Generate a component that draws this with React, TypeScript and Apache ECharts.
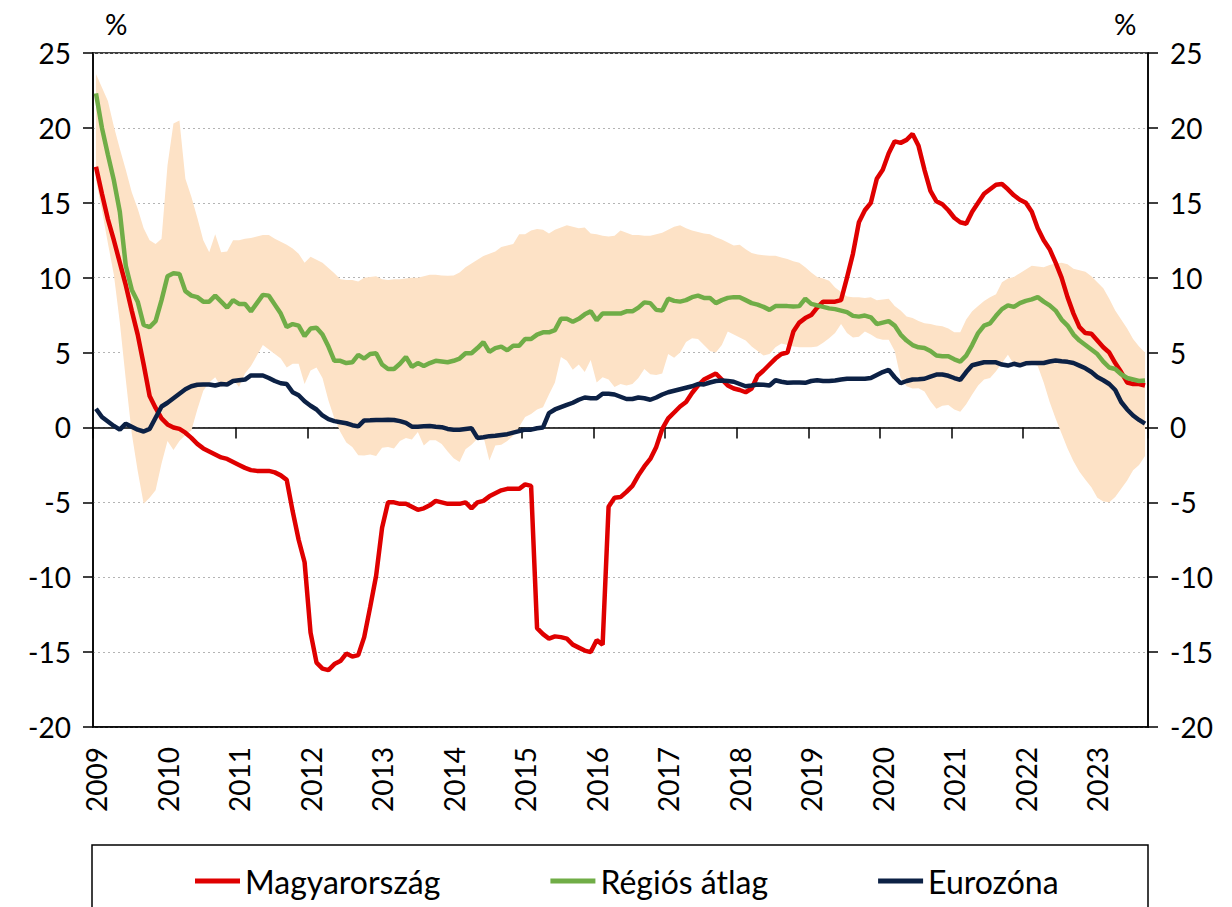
import React, { useEffect, useRef } from "react";
import * as echarts from "echarts";

// ---- Tick labels / categories ----
const years = ["2009", "2010", "2011", "2012", "2013", "2014", "2015", "2016", "2017", "2018", "2019", "2020", "2021", "2022", "2023"];
const monthCodes = ["01", "02", "03", "04", "05", "06", "07", "08", "09", "10", "11", "12"];
const monthsInLastYear = 9;
const categories: string[] = years.flatMap((y, yi) =>
  monthCodes.slice(0, yi === years.length - 1 ? monthsInLastYear : 12).map((m) => `${y}.${m}`)
);

const seriesNames = ["Magyarország", "Régiós átlag", "Eurozóna"];

// ---- Series values (monthly, Jan 2009 – Sep 2023) ----
const hungary = [
  17.4, 15.6, 13.9, 12.5, 11.0, 9.5, 7.8, 6.2, 4.2, 2.1, 1.3, 0.6,
  0.2, 0.0, -0.1, -0.35, -0.7, -1.1, -1.4, -1.6, -1.8, -2.0, -2.1, -2.3,
  -2.5, -2.7, -2.85, -2.9, -2.9, -2.9, -3.0, -3.2, -3.5, -5.6, -7.5, -9.0,
  -13.7, -15.7, -16.1, -16.2, -15.8, -15.6, -15.1, -15.3, -15.2, -14.0, -12.0, -9.9,
  -6.7, -5.0, -5.0, -5.1, -5.1, -5.3, -5.5, -5.4, -5.2, -4.9, -5.0, -5.1,
  -5.1, -5.1, -5.0, -5.4, -5.0, -4.9, -4.6, -4.4, -4.2, -4.1, -4.1, -4.1,
  -3.8, -3.9, -13.4, -13.8, -14.1, -13.95, -14.0, -14.1, -14.5, -14.7, -14.9, -15.0,
  -14.2, -14.5, -5.3, -4.7, -4.65, -4.3, -3.9, -3.2, -2.6, -2.1, -1.3, -0.1,
  0.6, 1.0, 1.4, 1.7, 2.3, 2.8, 3.2, 3.4, 3.6, 3.2, 2.8, 2.6,
  2.5, 2.35, 2.6, 3.45, 3.8, 4.2, 4.6, 4.9, 5.0, 6.4, 7.0, 7.3,
  7.5, 8.0, 8.4, 8.4, 8.4, 8.5, 10.0, 11.6, 13.7, 14.5, 15.0, 16.6,
  17.2, 18.3, 19.1, 19.0, 19.2, 19.6, 18.8, 17.2, 15.8, 15.1, 14.9, 14.5,
  14.0, 13.7, 13.6, 14.4, 15.0, 15.6, 15.9, 16.2, 16.25, 15.9, 15.5, 15.2,
  15.0, 14.4, 13.3, 12.5, 11.9, 11.0, 10.0, 8.7, 7.6, 6.7, 6.3, 6.25,
  5.8, 5.35, 5.0, 4.3, 3.7, 3.0, 2.9, 2.9, 2.8,
];

const regional = [
  22.3, 20.0, 18.2, 16.5, 14.4, 10.8, 9.2, 8.4, 6.85, 6.7, 7.1, 8.5,
  10.1, 10.3, 10.25, 9.1, 8.8, 8.7, 8.4, 8.4, 8.8, 8.4, 8.0, 8.5,
  8.25, 8.25, 7.75, 8.3, 8.85, 8.8, 8.2, 7.6, 6.7, 6.9, 6.8, 6.1,
  6.6, 6.65, 6.2, 5.4, 4.45, 4.45, 4.3, 4.35, 4.85, 4.6, 4.9, 4.95,
  4.2, 3.9, 3.9, 4.25, 4.7, 4.05, 4.3, 4.1, 4.3, 4.45, 4.4, 4.35,
  4.45, 4.6, 4.95, 4.95, 5.3, 5.7, 5.05, 5.3, 5.4, 5.15, 5.45, 5.45,
  5.9, 5.9, 6.2, 6.35, 6.35, 6.5, 7.25, 7.25, 7.05, 7.25, 7.55, 7.75,
  7.15, 7.6, 7.6, 7.6, 7.6, 7.75, 7.75, 8.0, 8.35, 8.3, 7.85, 7.8,
  8.6, 8.45, 8.4, 8.5, 8.7, 8.8, 8.65, 8.65, 8.3, 8.5, 8.65, 8.7,
  8.7, 8.5, 8.3, 8.2, 8.05, 7.85, 8.1, 8.1, 8.1, 8.07, 8.1, 8.6,
  8.25, 8.15, 8.05, 7.95, 7.9, 7.8, 7.7, 7.45, 7.4, 7.47, 7.35, 6.9,
  7.0, 7.1, 6.8, 6.2, 5.8, 5.5, 5.35, 5.3, 5.1, 4.8, 4.75, 4.75,
  4.55, 4.4, 4.8, 5.5, 6.3, 6.8, 6.95, 7.45, 7.9, 8.15, 8.05, 8.3,
  8.45, 8.55, 8.7, 8.4, 8.15, 7.8, 7.2, 6.8, 6.2, 5.8, 5.5, 5.2,
  4.9, 4.4, 4.0, 3.9, 3.55, 3.3, 3.2, 3.1, 3.13,
];

const eurozone = [
  1.25, 0.7, 0.4, 0.1, -0.15, 0.25, 0.05, -0.15, -0.27, -0.1, 0.65, 1.4,
  1.65, 1.95, 2.25, 2.55, 2.75, 2.85, 2.87, 2.87, 2.8, 2.9, 2.87, 3.1,
  3.15, 3.2, 3.47, 3.47, 3.47, 3.3, 3.1, 2.95, 2.9, 2.35, 2.15, 1.75,
  1.45, 1.2, 0.8, 0.55, 0.42, 0.35, 0.28, 0.15, 0.07, 0.47, 0.48, 0.5,
  0.5, 0.52, 0.5, 0.42, 0.3, 0.05, 0.05, 0.08, 0.1, 0.05, 0.02, -0.1,
  -0.15, -0.15, -0.1, -0.05, -0.7, -0.65, -0.58, -0.55, -0.5, -0.45, -0.35, -0.25,
  -0.15, -0.15, -0.05, 0.0, 0.95, 1.2, 1.35, 1.5, 1.65, 1.85, 2.0, 1.95,
  1.95, 2.25, 2.25, 2.2, 2.05, 1.9, 1.9, 2.0, 1.95, 1.85, 2.0, 2.2,
  2.35, 2.45, 2.55, 2.65, 2.75, 2.9, 2.87, 3.0, 3.1, 3.13, 3.1, 3.05,
  2.9, 2.75, 2.8, 2.87, 2.85, 2.8, 3.15, 3.05, 2.98, 3.0, 3.0, 2.98,
  3.1, 3.15, 3.1, 3.1, 3.13, 3.2, 3.25, 3.25, 3.25, 3.25, 3.3, 3.5,
  3.7, 3.85, 3.35, 2.95, 3.1, 3.2, 3.22, 3.25, 3.4, 3.53, 3.53, 3.45,
  3.3, 3.17, 3.7, 4.15, 4.25, 4.35, 4.35, 4.35, 4.2, 4.13, 4.25, 4.15,
  4.28, 4.3, 4.3, 4.3, 4.4, 4.47, 4.42, 4.38, 4.3, 4.13, 3.95, 3.7,
  3.37, 3.15, 2.9, 2.5, 1.7, 1.2, 0.8, 0.5, 0.25,
];

// Regional range (shaded band)
const bandMax = [
  23.6, 22.7, 21.8, 20.1, 18.6, 17.2, 15.7, 14.6, 13.3, 12.5, 12.25, 12.6,
  17.5, 20.3, 20.5, 16.6, 15.4, 14.0, 12.5, 11.7, 12.9, 11.7, 11.75, 12.5,
  12.5, 12.6, 12.65, 12.75, 12.85, 12.85, 12.6, 12.4, 12.2, 11.95, 11.6, 11.0,
  11.4, 11.2, 11.0, 10.65, 10.3, 9.9, 9.85, 9.85, 9.75, 10.0, 10.05, 10.1,
  9.9, 9.85, 9.9, 9.9, 9.95, 10.0, 10.0, 10.1, 10.2, 10.2, 10.15, 10.13,
  10.15, 10.35, 10.7, 10.95, 11.2, 11.45, 11.6, 11.75, 12.05, 12.15, 12.25, 12.9,
  12.9, 13.15, 13.25, 13.2, 12.95, 13.2, 13.35, 13.5, 13.4, 13.3, 13.35, 12.95,
  12.9, 12.8, 12.75, 12.8, 13.15, 13.0, 12.85, 12.85, 12.8, 12.8, 12.9, 13.0,
  13.2, 13.4, 13.5, 13.3, 13.15, 13.05, 12.95, 12.9, 12.7, 12.55, 12.35, 12.15,
  12.2, 11.9, 11.65, 11.55, 11.5, 11.47, 11.47, 11.35, 11.25, 11.1, 11.0, 10.7,
  10.35, 10.05, 9.95, 9.8, 9.35, 9.05, 8.75, 8.7, 8.7, 8.65, 8.7, 8.5,
  8.55, 8.6, 8.1, 7.8, 7.4, 7.3, 7.1, 6.95, 6.9, 6.8, 6.75, 6.6,
  6.35, 6.35, 7.2, 7.75, 8.1, 8.45, 8.7, 8.9, 9.7, 9.95, 10.05, 10.3,
  10.55, 10.8, 10.75, 10.7, 10.85, 10.95, 11.0, 10.9, 10.6, 10.5, 10.4, 10.1,
  9.7, 9.3, 8.6, 7.8, 7.2, 6.6, 5.9, 5.4, 5.0,
];

const bandMin = [
  16.5, 14.5, 12.3, 10.2, 7.0, 3.2, -0.4, -2.9, -5.1, -4.7, -4.2, -2.4,
  -0.9, -1.5, -0.9, -0.5, -0.2, 1.2, 2.45, 3.0, 3.35, 2.7, 3.0, 3.2,
  2.7, 3.6, 4.1, 4.8, 5.5, 5.2, 4.9, 4.6, 4.0, 4.25, 4.25, 2.9,
  3.8, 4.0, 3.3, 1.8, 0.6, -0.3, -1.0, -1.3, -1.85, -1.87, -1.8, -1.9,
  -1.35, -1.3, -1.4, -0.9, -0.7, -0.8, -0.3, -1.2, -0.85, -0.85, -1.1, -1.6,
  -2.05, -2.3, -1.45, -1.15, -0.75, -0.6, -2.2, -1.2, -1.15, -0.9, -0.55, 0.05,
  0.7, 0.9, 1.2, 1.35, 2.2, 3.0, 4.7, 4.45, 3.85, 4.2, 3.7, 4.5,
  3.0, 3.35, 3.2, 2.7, 2.9, 2.8, 2.9, 3.3, 3.9, 3.55, 3.5, 3.6,
  4.9, 4.65, 5.0, 5.7, 5.95, 5.9, 5.5, 5.1, 5.0, 5.5, 6.4, 6.2,
  6.0, 5.8, 5.4, 5.1, 4.8, 4.9, 5.35, 5.6, 5.5, 5.4, 5.35, 5.35,
  5.35, 5.4, 5.65, 5.95, 6.3, 6.9, 6.3, 6.0, 6.05, 6.4, 6.2, 5.95,
  5.85, 5.85, 5.1, 3.3, 2.75, 2.6, 2.62, 2.4, 1.75, 1.25, 1.45, 1.5,
  1.2, 1.05, 1.55, 2.2, 2.8, 3.2, 3.3, 3.75, 4.3, 4.85, 4.2, 4.3,
  4.4, 4.25, 4.1, 3.0, 1.7, 0.6, -0.4, -1.4, -2.25, -2.95, -3.5, -4.0,
  -4.7, -4.95, -5.0, -4.65, -4.1, -3.55, -2.85, -2.5, -1.9,
];

const bandRange = bandMax.map((v, i) => +(v - bandMin[i]).toFixed(3));

// ---- Styles ----
const FONT = "Lato, 'Open Sans', sans-serif";
const RED = "#DF0000";
const GREEN = "#70AD47";
const NAVY = "#0C2145";
const BAND = "#FDE2C6";
const AXIS = "#000000";

export default function App() {
  const ref = useRef<HTMLDivElement>(null);

  useEffect(() => {
    document.body.style.margin = "0";
    if (!ref.current) return;
    const chart = echarts.init(ref.current, undefined, { renderer: "svg" });

    const yAxisCommon = {
      type: "value" as const,
      min: -20,
      max: 25,
      interval: 5,
      axisLine: { show: true, lineStyle: { color: AXIS, width: 1.5 } },
      axisTick: { show: true, length: 10, lineStyle: { color: AXIS, width: 1.5 } },
      axisLabel: { margin: 22, fontSize: 28, fontFamily: FONT, color: "#000" },
    };

    chart.setOption({
      animation: false,
      grid: {
        left: 93,
        right: 84,
        top: 53,
        bottom: 180,
        show: true,
        borderColor: AXIS,
        borderWidth: 1.5,
        backgroundColor: "transparent",
      },
      xAxis: [
        {
          type: "category",
          data: categories,
          boundaryGap: true,
          position: "bottom",
          axisLine: { show: true, onZero: false, lineStyle: { color: AXIS, width: 1.5 } },
          axisTick: { show: false },
          axisLabel: {
            interval: 11,
            rotate: 90,
            margin: 20,
            fontSize: 28,
            fontFamily: FONT,
            color: "#000",
            formatter: (v: string) => v.slice(0, 4),
          },
          splitLine: { show: false },
        },
        {
          type: "category",
          data: categories,
          boundaryGap: true,
          position: "top",
          axisLine: { show: true, onZero: true, onZeroAxisIndex: 0, lineStyle: { color: AXIS, width: 1.5 } },
          axisTick: { show: true, interval: 11, inside: true, length: 11, lineStyle: { color: AXIS, width: 1.5 } },
          axisLabel: { show: false },
          splitLine: { show: false },
        },
      ],
      yAxis: [
        {
          ...yAxisCommon,
          position: "left",
          splitLine: { show: true, lineStyle: { color: "#B4B4B4", width: 1, type: [2, 3] } },
        },
        {
          ...yAxisCommon,
          position: "right",
          splitLine: { show: false },
        },
      ],
      legend: {
        data: seriesNames,
        left: 190,
        top: 860,
        icon: "rect",
        itemWidth: 45,
        itemHeight: 5,
        itemGap: 110,
        selectedMode: false,
        textStyle: { fontSize: 32, fontFamily: FONT, color: "#000" },
      },
      graphic: [
        {
          type: "rect",
          shape: { x: 92, y: 845, width: 1056, height: 100 },
          style: { fill: "none", stroke: AXIS, lineWidth: 1.5 },
          silent: true,
        },
        {
          type: "text",
          left: 105,
          top: 10,
          style: { text: "%", fontSize: 28, fontFamily: FONT, fill: "#000" },
        },
        {
          type: "text",
          left: 1114,
          top: 10,
          style: { text: "%", fontSize: 28, fontFamily: FONT, fill: "#000" },
        },
      ],
      series: [
        {
          name: "bandMin",
          type: "line",
          data: bandMin,
          stack: "band",
          stackStrategy: "all",
          symbol: "none",
          lineStyle: { opacity: 0 },
          silent: true,
          z: 1,
        },
        {
          name: "bandRange",
          type: "line",
          data: bandRange,
          stack: "band",
          stackStrategy: "all",
          symbol: "none",
          lineStyle: { opacity: 0 },
          areaStyle: { color: BAND, opacity: 1 },
          silent: true,
          z: 1,
        },
        {
          name: seriesNames[0],
          type: "line",
          data: hungary,
          symbol: "none",
          lineStyle: { color: RED, width: 4.5 },
          itemStyle: { color: RED },
          z: 3,
        },
        {
          name: seriesNames[1],
          type: "line",
          data: regional,
          symbol: "none",
          lineStyle: { color: GREEN, width: 4.5 },
          itemStyle: { color: GREEN },
          z: 4,
        },
        {
          name: seriesNames[2],
          type: "line",
          data: eurozone,
          symbol: "none",
          lineStyle: { color: NAVY, width: 4.5 },
          itemStyle: { color: NAVY },
          z: 5,
        },
      ],
    });

    return () => chart.dispose();
  }, []);

  return <div ref={ref} style={{ width: 1232, height: 907 }} />;
}
